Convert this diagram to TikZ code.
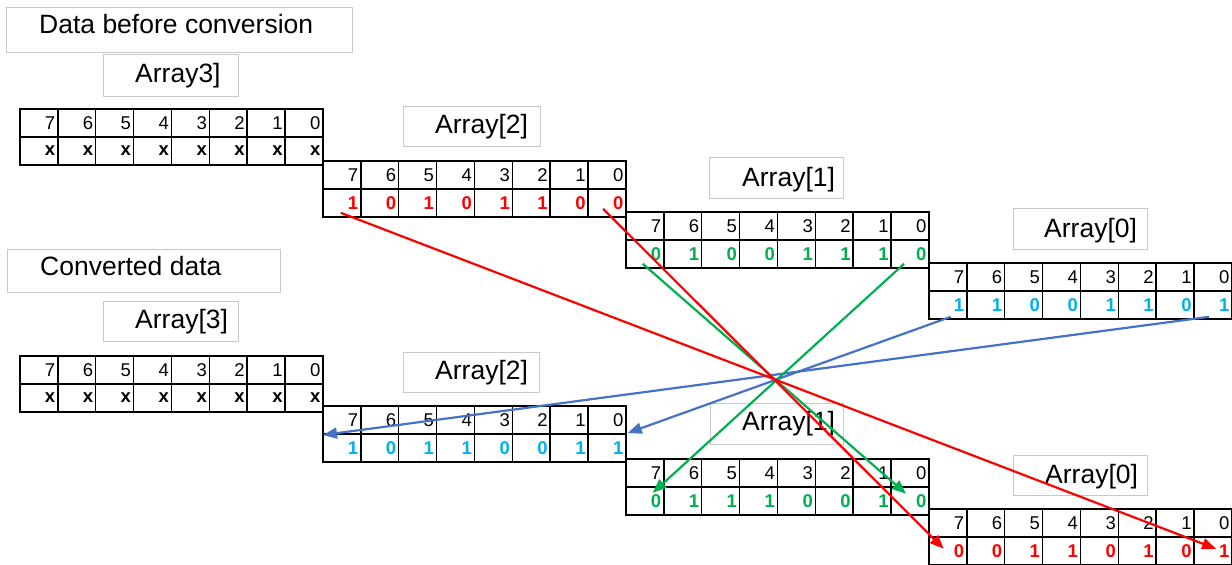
\documentclass[tikz,border=0pt]{standalone}
\usepackage{fontspec}
\setmainfont{Liberation Sans}
\usetikzlibrary{arrows.meta,calc}
\definecolor{cred}{RGB}{255,0,0}
\definecolor{cgreen}{RGB}{0,176,80}
\definecolor{cblue}{RGB}{0,176,240}
\definecolor{lblue}{RGB}{68,114,196}
\definecolor{boxgray}{RGB}{200,200,200}

\newcommand\bittable[5]{%
  \foreach \b/\v [count=\i from 0] in {#5} {
    \node[cellh] (#1-h\b) at ({#2+\i*37.9},#3) {\b};
    \node[celld, text=#4] (#1-d\b) at ({#2+\i*37.9},{#3+28}) {\v};
  }}

\begin{document}
\begin{tikzpicture}[x=1pt,y=-1pt,
  cellbase/.style={draw=black, line width=1.6pt, minimum width=37.9pt,
    minimum height=28pt, inner xsep=2.5pt, inner ysep=0pt, text width=32.9pt,
    align=right, anchor=north west},
  cellh/.style={cellbase, font=\fontsize{18.5}{18}\selectfont},
  celld/.style={cellbase, font=\fontsize{18.5}{18}\selectfont\bfseries},
  lbox/.style={draw=boxgray, line width=0.8pt, anchor=north west, inner sep=0pt},
  lbl/.style={anchor=base west, inner sep=0pt, font=\fontsize{26.5}{30}\selectfont},
  conn/.style={line width=2.2pt, -{Triangle[length=14pt,width=11pt]}}
]
\useasboundingbox (0,0) rectangle (1232,565);

% label boxes
\node[lbox, minimum width=346pt, minimum height=45pt] (bx-t1) at (6,7) {};
\node[lbox, minimum width=135pt, minimum height=42pt] (bx-a3t) at (103,54) {};
\node[lbox, minimum width=137pt, minimum height=40pt] (bx-a2t) at (403,106) {};
\node[lbox, minimum width=134pt, minimum height=41pt] (bx-a1t) at (709,157) {};
\node[lbox, minimum width=134pt, minimum height=41pt] (bx-a0t) at (1013,208) {};
\node[lbox, minimum width=273pt, minimum height=43pt] (bx-t2) at (7,249) {};
\node[lbox, minimum width=135pt, minimum height=40pt] (bx-a3b) at (103,301) {};
\node[lbox, minimum width=136pt, minimum height=40pt] (bx-a2b) at (403,352) {};
\node[lbox, minimum width=133pt, minimum height=41pt] (bx-a1b) at (710,403) {};
\node[lbox, minimum width=134pt, minimum height=40pt] (bx-a0b) at (1013,455) {};

% label texts
\node[lbl] (l-t1) at (39,33) {Data before conversion};
\node[lbl] (l-a3t) at (135,82) {Array3]};
\node[lbl] (l-a2t) at (435,133) {Array[2]};
\node[lbl] (l-a1t) at (742,186) {Array[1]};
\node[lbl] (l-a0t) at (1044,237) {Array[0]};
\node[lbl] (l-t2) at (40,275) {Converted data};
\node[lbl] (l-a3b) at (135,328) {Array[3]};
\node[lbl] (l-a2b) at (435,379) {Array[2]};
\node[lbl] (l-a1b) at (742,430) {Array[1]};
\node[lbl] (l-a0b) at (1045,483) {Array[0]};

% tables before conversion
\bittable{t3}{19}{108}{black}{7/x,6/x,5/x,4/x,3/x,2/x,1/x,0/x}
\bittable{t2}{322}{160}{cred}{7/1,6/0,5/1,4/0,3/1,2/1,1/0,0/0}
\bittable{t1}{625}{211}{cgreen}{7/0,6/1,5/0,4/0,3/1,2/1,1/1,0/0}
\bittable{t0}{928}{262}{cblue}{7/1,6/1,5/0,4/0,3/1,2/1,1/0,0/1}

% tables after conversion
\bittable{b3}{19}{355}{black}{7/x,6/x,5/x,4/x,3/x,2/x,1/x,0/x}
\bittable{b2}{322}{405}{cblue}{7/1,6/0,5/1,4/1,3/0,2/0,1/1,0/1}
\bittable{b1}{625}{458}{cgreen}{7/0,6/1,5/1,4/1,3/0,2/0,1/1,0/0}
\bittable{b0}{928}{508}{cred}{7/0,6/0,5/1,4/1,3/0,2/1,1/0,0/1}

% connectors
\draw[conn, lblue] ([shift={(3,12)}]t0-d7.center) -- ([shift={(1,0)}]b2-d0.north east);
\draw[conn, lblue] ([shift={(-4,12)}]t0-d0.center) -- ([shift={(1,2)}]b2-d7.north west);
\draw[conn, cgreen] ([shift={(-2,10)}]t1-d7.center) -- ([shift={(-4,-7)}]b1-d0.center);
\draw[conn, cgreen] ([shift={(-6,10)}]t1-d0.center) -- ([shift={(8,-8)}]b1-d7.center);
\draw[conn, cred] ([shift={(-1,10)}]t2-d7.center) -- ([shift={(3,-2)}]b0-d0.center);
\draw[conn, cred] ([shift={(-4,6)}]t2-d0.center) -- ([shift={(-4,-2)}]b0-d7.center);
\end{tikzpicture}
\end{document}
